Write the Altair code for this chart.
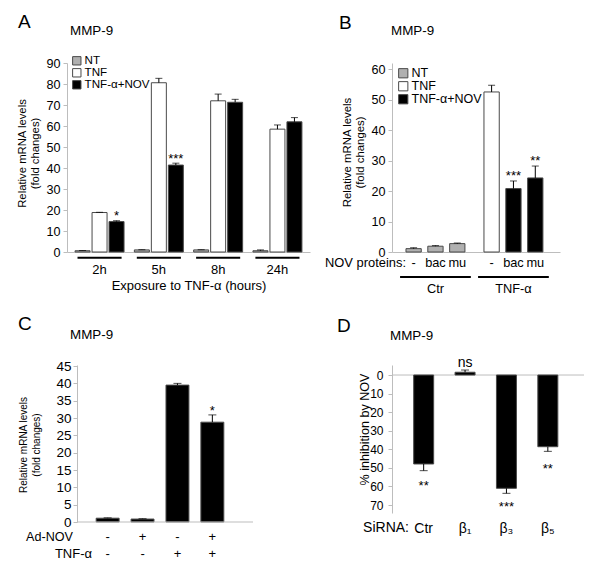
import altair as alt
import pandas as pd

FONT = "Liberation Sans"
BAR_STROKE = "#4a4a4a"
AXIS_GRAY = "#bdbdbd"

conds = ["NT", "TNF", "TNF-α+NOV"]
cond_colors = ["#b0b0b0", "#ffffff", "#000000"]

# ---------------- Panel A ----------------
A_groups = ["2h", "5h", "8h", "24h"]
A_nt = [0.6, 1.0, 1.0, 0.6]
A_nt_err = [0.7, 1.1, 1.1, 1.0]
A_tnf = [18.8, 80.6, 72.0, 58.5]
A_tnf_err = [18.9, 82.7, 75.2, 60.5]
A_nov = [14.5, 41.4, 71.3, 62.0]
A_nov_err = [14.9, 42.3, 72.7, 64.0]
A_star_group = ["2h", "5h"]
A_star_text = ["*", "***"]
A_star_y = [18.9, 46.2]

# ---------------- Panel B ----------------
B_groups = ["Ctr", "TNF-α"]
B_proteins = ["-", "bac", "mu"]
B_group = ["Ctr", "Ctr", "Ctr", "TNF-α", "TNF-α", "TNF-α"]
B_protein = ["-", "bac", "mu", "-", "bac", "mu"]
B_cond = ["NT", "NT", "NT", "TNF", "TNF-α+NOV", "TNF-α+NOV"]
B_values = [1.1, 1.9, 2.75, 52.5, 20.8, 24.3]
B_err = [1.4, 2.1, 2.95, 54.7, 23.3, 28.2]
B_star_group = ["TNF-α", "TNF-α"]
B_star_protein = ["bac", "mu"]
B_star_text = ["***", "**"]
B_star_y = [26.3, 31.2]

# ---------------- Panel C ----------------
C_keys = ["c1", "c2", "c3", "c4"]
C_values = [1.1, 0.85, 39.5, 28.8]
C_err = [1.2, 0.95, 40.0, 30.9]
C_adnov = ["-", "+", "-", "+"]
C_tnf = ["-", "-", "+", "+"]
C_star_key = ["c4"]
C_star_text = ["*"]
C_star_y = [33.3]

# ---------------- Panel D ----------------
D_groups = ["Ctr", "β₁", "β₃", "β₅"]
D_values = [47.9, -1.5, 61.0, 38.6]
D_err = [51.5, -2.7, 63.7, 41.1]
D_star_group = ["Ctr", "β₃", "β₅"]
D_star_text = ["**", "***", "**"]
D_star_y = [57.4, 69.1, 48.5]
D_ns_group = ["β₁"]
D_ns_text = ["ns"]
D_ns_y = [-6.3]


def text_at(s, x, y, size, align="left", baseline="alphabetic"):
    return alt.Chart(pd.DataFrame({"t": [s]})).mark_text(
        align=align, baseline=baseline, fontSize=size, font=FONT, color="black"
    ).encode(x=alt.value(x), y=alt.value(y), text="t:N")


def legend(x, y, size, fs):
    return alt.Legend(
        orient="none", legendX=x, legendY=y, title=None, symbolType="square",
        symbolSize=size, symbolStrokeColor=BAR_STROKE, symbolStrokeWidth=1,
        labelFontSize=fs, labelFont=FONT, rowPadding=-3, labelOffset=2,
        padding=0, labelLimit=300, symbolOffset=0,
    )


# ===== Panel A chart =====
rows = []
for i, g in enumerate(A_groups):
    for c, vals, errs in zip(conds, [A_nt, A_tnf, A_nov], [A_nt_err, A_tnf_err, A_nov_err]):
        rows.append({"group": g, "cond": c, "value": vals[i], "err": errs[i]})
dfA = pd.DataFrame(rows)
dfAs = pd.DataFrame({"group": A_star_group, "cond": ["TNF-α+NOV"] * 2,
                     "text": A_star_text, "sy": A_star_y})

xA = alt.X("group:N", sort=A_groups,
           scale=alt.Scale(paddingInner=0.174, paddingOuter=0.136),
           axis=alt.Axis(title="Exposure to TNF-α (hours)", labelAngle=0, ticks=False,
                         labelPadding=11, titlePadding=3, labelFontSize=13, titleFontSize=13))
xoA = alt.XOffset("cond:N", sort=conds, scale=alt.Scale(domain=conds, paddingInner=0.118, paddingOuter=0))


def yA(f):
    return alt.Y(f, scale=alt.Scale(domain=[0, 90], nice=False),
                 axis=alt.Axis(values=list(range(0, 91, 10)),
                               title=["Relative mRNA levels", "(fold changes)"],
                               titleFontSize=11.3, titleX=-39.5, titleY=90, titleLineHeight=13,
                               labelFontSize=12.6, labelPadding=3))


colA = alt.Color("cond:N", sort=conds, scale=alt.Scale(domain=conds, range=cond_colors),
                 legend=legend(4, -8, 70, 11.6))

barsA = alt.Chart(dfA).mark_bar(stroke=BAR_STROKE, strokeWidth=1).encode(
    x=xA, xOffset=xoA, y=yA("value:Q"), color=colA)
errA = alt.Chart(dfA).mark_rule(color="black", strokeWidth=1).encode(
    x=xA, xOffset=xoA, y=yA("value:Q"), y2="err:Q")
capA = alt.Chart(dfA).mark_tick(color="black", thickness=1, size=7).encode(
    x=xA, xOffset=xoA, y=yA("err:Q"))
starA = alt.Chart(dfAs).mark_text(fontSize=13, font=FONT, baseline="middle", dy=4).encode(
    x=xA, xOffset=xoA, y=yA("sy:Q"), text="text:N")
brA = alt.Chart(pd.DataFrame({"group": A_groups})).mark_bar(
    color="black", width=alt.RelativeBandSize(0.9)).encode(
    x=xA, y=alt.value(193.7), y2=alt.value(195.7))

A = alt.layer(barsA, errA, capA, starA, brA,
              text_at("A", -49, -35, 19), text_at("MMP-9", 3, -28, 13.4)
              ).properties(width=243, height=189)

# ===== Panel B chart =====
dfB = pd.DataFrame({"group": B_group, "protein": B_protein, "cond": B_cond,
                    "value": B_values, "err": B_err})
dfBs = pd.DataFrame({"group": B_star_group, "protein": B_star_protein,
                     "text": B_star_text, "sy": B_star_y})

xB = alt.X("group:N", sort=B_groups,
           scale=alt.Scale(paddingInner=0.244, paddingOuter=0.199, align=0.45),
           axis=alt.Axis(title=None, labelAngle=0, ticks=False, labelPadding=30, labelFontSize=12.8))
xoB = alt.XOffset("protein:N", sort=B_proteins,
                  scale=alt.Scale(domain=B_proteins, paddingInner=0.3, paddingOuter=0))


def yB(f):
    return alt.Y(f, scale=alt.Scale(domain=[0, 62], nice=False),
                 axis=alt.Axis(values=list(range(0, 61, 10)),
                               title=["Relative mRNA levels", "(fold changes)"],
                               titleFontSize=11.4, titleX=-39.5, titleY=89, titleLineHeight=13,
                               labelFontSize=12.6, labelPadding=3))


colB = alt.Color("cond:N", scale=alt.Scale(domain=conds, range=cond_colors),
                 legend=legend(5, 4, 85, 12.5))

barsB = alt.Chart(dfB).mark_bar(stroke=BAR_STROKE, strokeWidth=1).encode(
    x=xB, xOffset=xoB, y=yB("value:Q"), color=colB)
errB = alt.Chart(dfB).mark_rule(color="black", strokeWidth=1).encode(
    x=xB, xOffset=xoB, y=yB("value:Q"), y2="err:Q")
capB = alt.Chart(dfB).mark_tick(color="black", thickness=1, size=7).encode(
    x=xB, xOffset=xoB, y=yB("err:Q"))
starB = alt.Chart(dfBs).mark_text(fontSize=13, font=FONT, baseline="middle", dy=4).encode(
    x=xB, xOffset=xoB, y=yB("sy:Q"), text="text:N")
protB = alt.Chart(dfB).mark_text(fontSize=12.8, font=FONT, baseline="middle").encode(
    x=xB, xOffset=xoB, y=alt.value(200), text="protein:N")
brB = alt.Chart(pd.DataFrame({"group": B_groups})).mark_bar(
    color="black", width=alt.RelativeBandSize(1.2)).encode(
    x=xB, y=alt.value(213), y2=alt.value(215))

B = alt.layer(barsB, errB, capB, starB, protB, brB,
              text_at("NOV proteins:", 14, 200, 12.9, align="right", baseline="middle"),
              text_at("B", -53, -34, 19), text_at("MMP-9", -1, -28, 13.4)
              ).properties(width=168, height=189)

# ===== Panel C chart =====
dfC = pd.DataFrame({"key": C_keys, "value": C_values, "err": C_err,
                    "adnov": C_adnov, "tnf": C_tnf})
dfCs = pd.DataFrame({"key": C_star_key, "text": C_star_text, "sy": C_star_y})

xC = alt.X("key:N", sort=C_keys,
           scale=alt.Scale(paddingInner=0.343, paddingOuter=0.836, align=0.5),
           axis=alt.Axis(labels=False, ticks=False, domain=False, title=None))


def yC(f):
    return alt.Y(f, scale=alt.Scale(domain=[0, 45.3], nice=False),
                 axis=alt.Axis(values=list(range(0, 46, 5)), offset=-10,
                               title=["Relative mRNA levels", "(fold changes)"],
                               titleFontSize=10, titleX=-49, titleY=79.5, titleLineHeight=13,
                               labelFontSize=13.5, labelPadding=2))


barsC = alt.Chart(dfC).mark_bar(color="black", stroke=BAR_STROKE, strokeWidth=1).encode(
    x=xC, y=yC("value:Q"))
errC = alt.Chart(dfC).mark_rule(color="black", strokeWidth=1).encode(
    x=xC, y=yC("value:Q"), y2="err:Q")
capC = alt.Chart(dfC).mark_tick(color="black", thickness=1, size=8).encode(
    x=xC, y=yC("err:Q"))
starC = alt.Chart(dfCs).mark_text(fontSize=13, font=FONT, baseline="middle", dy=4).encode(
    x=xC, y=yC("sy:Q"), text="text:N")
baseC = alt.Chart(pd.DataFrame({"zero": [0]})).mark_rule(color=AXIS_GRAY).encode(
    y=yC("zero:Q"), x=alt.value(10), x2=alt.value(186))
sign1 = alt.Chart(dfC).mark_text(fontSize=13, font=FONT, baseline="middle").encode(
    x=xC, y=alt.value(171.7), text="adnov:N")
sign2 = alt.Chart(dfC).mark_text(fontSize=13, font=FONT, baseline="middle").encode(
    x=xC, y=alt.value(189), text="tnf:N")

C = alt.layer(barsC, errC, capC, starC, baseC, sign1, sign2,
              text_at("Ad-NOV", 6, 171.7, 12.6, align="right", baseline="middle"),
              text_at("TNF-α", 25, 189, 13, align="right", baseline="middle"),
              text_at("C", -49, -35, 19), text_at("MMP-9", 3, -26, 13.4)
              ).properties(width=186, height=157)

# ===== Panel D chart =====
dfD = pd.DataFrame({"group": D_groups, "value": D_values, "err": D_err})
dfDs = pd.DataFrame({"group": D_star_group, "text": D_star_text, "sy": D_star_y})
dfDn = pd.DataFrame({"group": D_ns_group, "text": D_ns_text, "sy": D_ns_y})

xD = alt.X("group:N", sort=D_groups,
           scale=alt.Scale(paddingInner=0.517, paddingOuter=0.578, align=0.453),
           axis=alt.Axis(title=None, labelAngle=0, ticks=False, domain=False,
                         labelPadding=8, labelFontSize=14))


def yD(f):
    return alt.Y(f, scale=alt.Scale(domain=[-5.4, 74.3], nice=False, reverse=True),
                 axis=alt.Axis(values=list(range(0, 71, 10)), title="% inhibition by NOV",
                               titleFontSize=12.6, titleX=-21, titleY=64,
                               labelFontSize=12, labelPadding=5))


zeroD = alt.Chart(pd.DataFrame({"zero": [0]})).mark_rule(color=AXIS_GRAY).encode(
    y=yD("zero:Q"))
barsD = alt.Chart(dfD).mark_bar(color="black", stroke=BAR_STROKE, strokeWidth=1).encode(
    x=xD, y=yD("value:Q"), y2=alt.datum(0))
errD = alt.Chart(dfD).mark_rule(color="black", strokeWidth=1).encode(
    x=xD, y=yD("value:Q"), y2="err:Q")
capD = alt.Chart(dfD).mark_tick(color="black", thickness=1, size=8).encode(
    x=xD, y=yD("err:Q"))
starD = alt.Chart(dfDs).mark_text(fontSize=13, font=FONT, baseline="middle", dy=4).encode(
    x=xD, y=yD("sy:Q"), text="text:N")
nsD = alt.Chart(dfDn).mark_text(fontSize=14, font=FONT, baseline="middle").encode(
    x=xD, y=yD("sy:Q"), text="text:N")

D = alt.layer(zeroD, barsD, errD, capD, starD, nsD,
              text_at("SiRNA:", 17, 162.5, 14, align="right", baseline="middle"),
              text_at("D", -55, -33, 19), text_at("MMP-9", -2, -25, 13.4)
              ).properties(width=192, height=148)

chart = alt.concat(A, B, C, D, columns=2, spacing={"row": 113, "column": 82},
                   bounds="flush").resolve_scale(
    color="independent", xOffset="independent").properties(
    padding={"left": 8, "top": 5, "right": 5, "bottom": 5}
).configure(font=FONT).configure_view(stroke=None).configure_axis(
    grid=False, domainColor=AXIS_GRAY, tickColor=AXIS_GRAY, tickSize=4,
    labelColor="black", titleColor="black", labelFont=FONT, titleFont=FONT,
    titleFontWeight="normal")

chart.save("out.html", embed_options={"renderer": "svg", "actions": False})
